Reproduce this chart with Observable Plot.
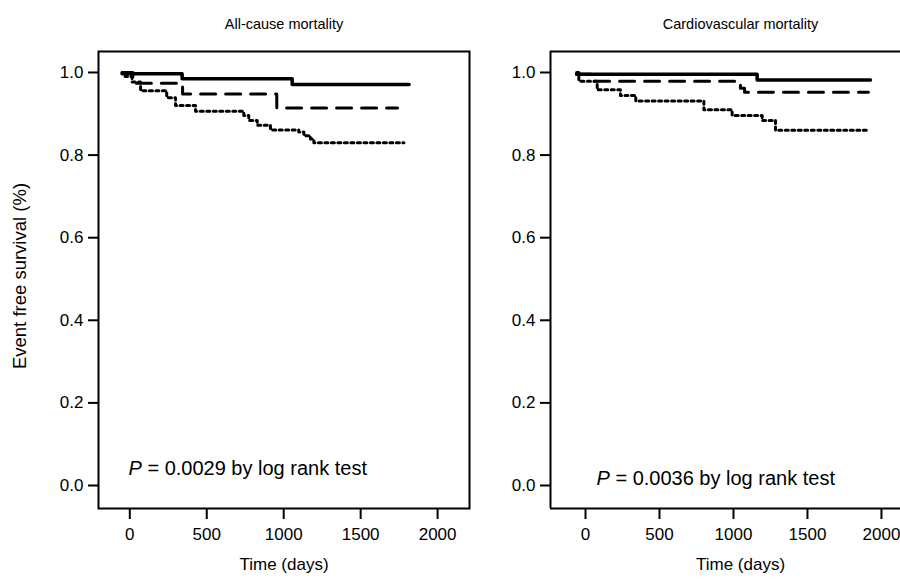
<!DOCTYPE html>
<html><head><meta charset="utf-8">
<script src="https://cdn.jsdelivr.net/npm/d3@7"></script>
<script src="https://cdn.jsdelivr.net/npm/@observablehq/plot@0.6"></script>
<style>
body{margin:0;background:#fff;}
#wrap{position:relative;width:900px;height:583px;overflow:hidden;background:#fff;}
#wrap svg{position:absolute;top:0;background:transparent;}
</style></head><body><div id="wrap"></div>
<script>
const xTicks = [0, 500, 1000, 1500, 2000];
const yTicks = [0, 0.2, 0.4, 0.6, 0.8, 1.0];
const panelTitles = ["All-cause mortality", "Cardiovascular mortality"];
const pValues = ["0.0029", "0.0036"];
const xLabel = "Time (days)";
const yLabel = "Event free survival (%)";

// All-cause mortality (time in days, survival proportion)
const allSolidT = [-50, 340, 1055, 1815];
const allSolidS = [0.997, 0.985, 0.971, 0.971];
const allDashT = [-50, 20, 343, 955, 1740];
const allDashS = [1.0, 0.974, 0.948, 0.914, 0.914];
const allDotT = [-50, -30, 15, 70, 240, 297, 427, 741, 773, 828, 914, 1098, 1131, 1174, 1196, 1781];
const allDotS = [1.0, 0.99, 0.977, 0.956, 0.939, 0.920, 0.906, 0.896, 0.884, 0.872, 0.861, 0.856, 0.847, 0.839, 0.830, 0.830];

// Cardiovascular mortality
const cvSolidT = [-60, 1160, 1926];
const cvSolidS = [0.996, 0.982, 0.982];
const cvDashT = [-60, 60, 1047, 1075, 1912];
const cvDashS = [0.996, 0.979, 0.962, 0.952, 0.952];
const cvDotT = [-60, -45, 79, 236, 340, 800, 991, 1194, 1284, 1903];
const cvDotS = [1.0, 0.979, 0.958, 0.944, 0.931, 0.910, 0.896, 0.884, 0.860, 0.860];

const FONT = "'Liberation Sans', Arial, Helvetica, sans-serif";
const titleSize = 14.5;
const xLabSize = 17;

const rows = (T, S) => T.map((t, i) => ({t, s: S[i]}));

function panel(cfg) {
  const yDom = [-0.0557, 1.0508];
  const frameMarks = cfg.openRight
    ? [Plot.ruleY([yDom[0], yDom[1]], {stroke: "#000", strokeWidth: 2}),
       Plot.ruleX([cfg.xDomain[0]], {stroke: "#000", strokeWidth: 2})]
    : [Plot.frame({stroke: "#000", strokeWidth: 2})];
  const svg = Plot.plot({
    width: cfg.width, height: 583,
    marginTop: 51, marginBottom: 75, marginLeft: cfg.marginLeft, marginRight: cfg.marginRight,
    x: {domain: cfg.xDomain},
    y: {domain: yDom},
    style: {fontFamily: FONT, background: "transparent", color: "#000"},
    marks: [
      ...frameMarks,
      Plot.axisX(xTicks, {tickSize: 11, tickPadding: 8, strokeWidth: 2, fontSize: 17, tickFormat: d3.format("d"), label: null}),
      Plot.axisY(yTicks, {tickSize: 10, tickPadding: 5, strokeWidth: 2, fontSize: 17, tickFormat: d3.format(".1f"), label: null}),
      Plot.line(rows(cfg.dotT, cfg.dotS), {x: "t", y: "s", curve: "step-after", stroke: "#000", strokeWidth: 3, strokeDasharray: "3,3.5"}),
      Plot.line(rows(cfg.dashT, cfg.dashS), {x: "t", y: "s", curve: "step-after", stroke: "#000", strokeWidth: 3, strokeDasharray: "15,10"}),
      Plot.line(rows(cfg.solidT, cfg.solidS), {x: "t", y: "s", curve: "step-after", stroke: "#000", strokeWidth: 3.5}),
      Plot.text([cfg.title], {frameAnchor: "top", dx: cfg.titleDx, dy: -33, fontSize: titleSize, fill: "#000"}),
      Plot.text([xLabel], {frameAnchor: "bottom", dx: cfg.titleDx, dy: 61, fontSize: xLabSize, fill: "#000"}),
      Plot.text(["P = " + cfg.p + " by log rank test"], {frameAnchor: "bottom-left", dx: cfg.pdx, dy: cfg.pdy, textAnchor: "start", fontSize: 20, fill: "#000"}),
      ...(cfg.yLabel ? [Plot.text([yLabel], {frameAnchor: "left", dx: -78, dy: -4, rotate: -90, textAnchor: "middle", fontSize: 18.5, fill: "#000"})] : [])
    ]
  });
  // italic P
  svg.querySelectorAll("text").forEach(el => {
    if (el.textContent.startsWith("P = ")) {
      const rest = el.textContent.slice(1);
      el.textContent = "";
      const ns = "http://www.w3.org/2000/svg";
      const a = document.createElementNS(ns, "tspan");
      a.setAttribute("font-style", "italic");
      a.textContent = "P";
      const b = document.createElementNS(ns, "tspan");
      b.textContent = rest;
      el.appendChild(a); el.appendChild(b);
    }
  });
  svg.style.left = cfg.left + "px";
  return svg;
}

const wrap = document.getElementById("wrap");
wrap.appendChild(panel({
  left: 0, width: 480, marginLeft: 98, marginRight: 11, xDomain: [-203.4, 2207.3], titleDx: 0, openRight: false,
  solidT: allSolidT, solidS: allSolidS, dashT: allDashT, dashS: allDashS, dotT: allDotT, dotS: allDotS,
  title: panelTitles[0], p: pValues[0], pdx: 30, pdy: -34, yLabel: true
}));
wrap.appendChild(panel({
  left: 480, width: 460, marginLeft: 70, marginRight: 0, xDomain: [-236.5, 2399], titleDx: -5, openRight: true,
  solidT: cvSolidT, solidS: cvSolidS, dashT: cvDashT, dashS: cvDashS, dotT: cvDotT, dotS: cvDotS,
  title: panelTitles[1], p: pValues[1], pdx: 46, pdy: -24, yLabel: false
}));
</script></body></html>
